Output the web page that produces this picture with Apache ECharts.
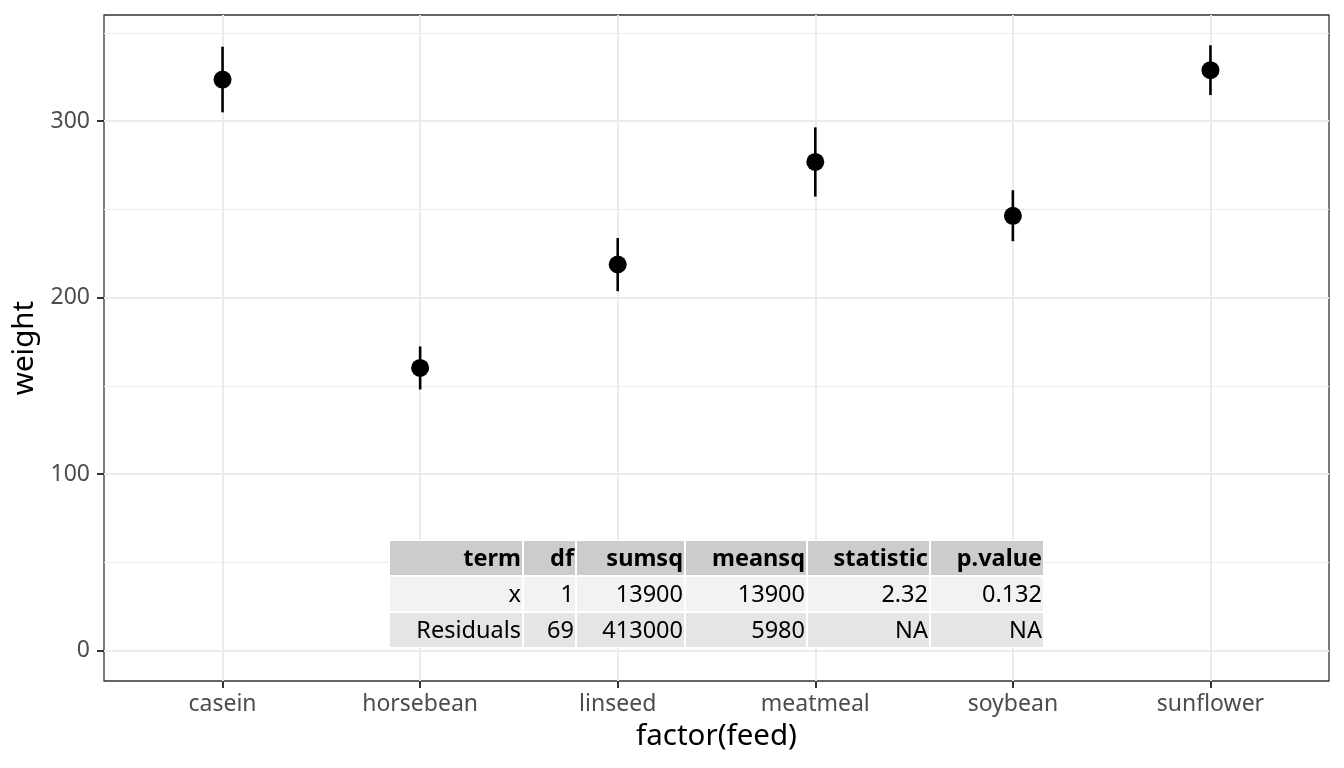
<!DOCTYPE html>
<html>
<head>
<meta charset="utf-8">
<script src="https://cdn.jsdelivr.net/npm/echarts@6/dist/echarts.min.js"></script>
<style>
  html, body { margin: 0; padding: 0; background: #fff; }
  #chart { width: 1344px; height: 768px; }
</style>
</head>
<body>
<div id="chart"></div>
<script>
// feed groups and summary (mean +/- se)
const feeds = ['casein', 'horsebean', 'linseed', 'meatmeal', 'soybean', 'sunflower']
const means = [323.6, 160.2, 218.8, 276.9, 246.4, 328.9]
const lows  = [305.0, 148.0, 203.7, 257.3, 232.0, 314.8]
const highs = [342.2, 172.4, 233.8, 296.5, 260.9, 343.0]

const yMajor = [0, 100, 200, 300]
const yMinor = [50, 150, 250, 350]

// anova table
const tableHeader = ['term', 'df', 'sumsq', 'meansq', 'statistic', 'p.value']
const tableRow1 = ['x', '1', '13900', '13900', '2.32', '0.132']
const tableRow2 = ['Residuals', '69', '413000', '5980', 'NA', 'NA']

const font = '"Noto Sans", "Open Sans", sans-serif'

var myChart = echarts.init(document.querySelector('#chart'))

// table layout (pixels)
const colEdges = [[390, 522], [524, 575], [577, 684], [686, 806], [808, 929], [931, 1043]]
const rowEdges = [[541, 575], [577, 611], [613, 647]]
const rowFills = ['#cccccc', '#f2f2f2', '#e5e5e5']

function buildTable () {
  const rows = [tableHeader, tableRow1, tableRow2]
  const els = [{
    type: 'rect',
    z: 20,
    shape: { x: 389, y: 540, width: 655, height: 108 },
    style: { fill: '#ffffff' }
  }]
  rows.forEach((row, r) => {
    row.forEach((txt, c) => {
      const [x0, x1] = colEdges[c]
      const [y0, y1] = rowEdges[r]
      els.push({
        type: 'rect',
        z: 21,
        shape: { x: x0, y: y0, width: x1 - x0, height: y1 - y0 },
        style: { fill: rowFills[r] }
      })
      els.push({
        type: 'text',
        z: 22,
        x: x1 - 1,
        y: (y0 + y1) / 2 + 1,
        style: {
          text: txt,
          align: 'right',
          verticalAlign: 'middle',
          fill: '#000',
          fontFamily: font,
          fontSize: 23.5,
          fontWeight: r === 0 ? 'bold' : 'normal'
        }
      })
    })
  })
  return els
}

const option = {
  animation: false,
  backgroundColor: '#fff',
  grid: {
    left: 104, top: 15, right: 15, bottom: 87,
    show: true,
    borderColor: '#333333',
    borderWidth: 1.3,
    backgroundColor: 'transparent'
  },
  xAxis: {
    type: 'value',
    min: 0.4,
    max: 6.6,
    name: 'factor(feed)',
    nameLocation: 'middle',
    nameGap: 41,
    nameTextStyle: { color: '#000', fontSize: 29.5, fontFamily: font },
    axisLine: { show: false, onZero: false },
    axisTick: {
      show: true, length: 7, customValues: [1, 2, 3, 4, 5, 6],
      lineStyle: { color: '#333333', width: 2 }
    },
    axisLabel: {
      customValues: [1, 2, 3, 4, 5, 6],
      formatter: v => feeds[Math.round(v) - 1] || '',
      color: '#4d4d4d', fontSize: 23, fontFamily: font, margin: 12
    },
    splitLine: { show: true, lineStyle: { color: '#ebebeb', width: 2 } }
  },
  yAxis: [
    {
      type: 'value',
      min: -17.15,
      max: 360.15,
      name: 'weight',
      nameLocation: 'middle',
      nameGap: 62,
      nameTextStyle: { color: '#000', fontSize: 29.5, fontFamily: font },
      axisLine: { show: false, onZero: false },
      axisTick: {
        show: true, length: 7, customValues: yMajor,
        lineStyle: { color: '#333333', width: 2 }
      },
      axisLabel: {
        customValues: yMajor,
        color: '#4d4d4d', fontSize: 23, fontFamily: font, margin: 14
      },
      splitLine: { show: true, lineStyle: { color: '#ebebeb', width: 2 } }
    },
    {
      type: 'value',
      min: -17.15,
      max: 360.15,
      position: 'left',
      axisLine: { show: false, onZero: false },
      axisTick: { show: false, customValues: yMinor },
      axisLabel: { show: false, customValues: yMinor },
      splitLine: { show: true, lineStyle: { color: '#ebebeb', width: 1 } }
    }
  ],
  series: [
    {
      type: 'custom',
      name: 'se',
      data: feeds.map((f, i) => [i + 1, lows[i], highs[i]]),
      renderItem: function (params, api) {
        const p0 = api.coord([api.value(0), api.value(1)])
        const p1 = api.coord([api.value(0), api.value(2)])
        return {
          type: 'line',
          shape: { x1: p0[0], y1: p0[1], x2: p1[0], y2: p1[1] },
          style: { stroke: '#000', lineWidth: 2.6 }
        }
      },
      z: 3
    },
    {
      type: 'scatter',
      name: 'mean',
      data: feeds.map((f, i) => [i + 1, means[i]]),
      symbol: 'circle',
      symbolSize: 18,
      itemStyle: { color: '#000', opacity: 1 },
      z: 4
    }
  ],
  graphic: buildTable()
}

myChart.setOption(option)
</script>
</body>
</html>
